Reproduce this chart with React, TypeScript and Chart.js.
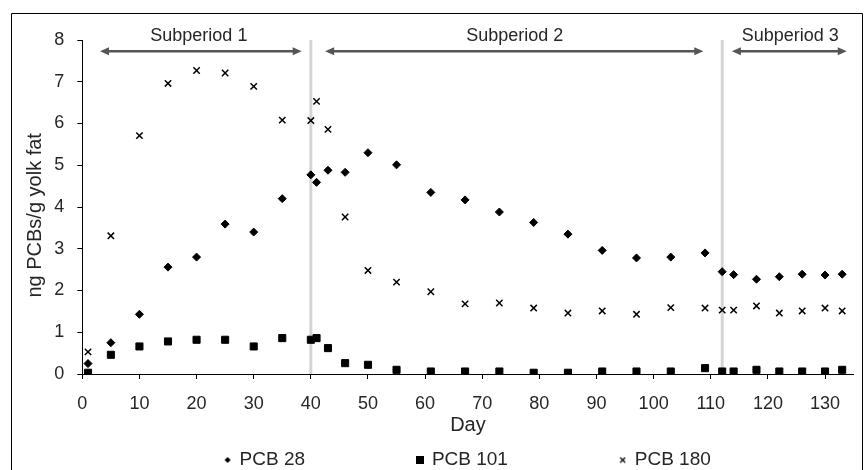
import React, { useEffect, useRef } from 'react';
import { Chart, registerables } from 'chart.js';

Chart.register(...registerables);

// ---- data ----
const days = [1, 5, 10, 15, 20, 25, 30, 35, 40, 41, 43, 46, 50, 55, 61, 67, 73, 79, 85, 91, 97, 103, 109, 112, 114, 118, 122, 126, 130, 133];
const pcb28 = [0.25, 0.75, 1.43, 2.56, 2.8, 3.59, 3.4, 4.2, 4.77, 4.59, 4.88, 4.83, 5.3, 5.01, 4.35, 4.17, 3.88, 3.63, 3.35, 2.96, 2.78, 2.8, 2.9, 2.45, 2.38, 2.27, 2.33, 2.39, 2.37, 2.39];
const pcb101 = [0.03, 0.46, 0.66, 0.78, 0.82, 0.82, 0.66, 0.86, 0.82, 0.86, 0.62, 0.26, 0.22, 0.1, 0.06, 0.06, 0.06, 0.03, 0.03, 0.06, 0.06, 0.06, 0.14, 0.06, 0.06, 0.1, 0.06, 0.06, 0.06, 0.1];
const pcb180 = [0.53, 3.31, 5.71, 6.96, 7.27, 7.21, 6.89, 6.08, 6.07, 6.53, 5.86, 3.76, 2.48, 2.2, 1.97, 1.68, 1.7, 1.58, 1.46, 1.51, 1.43, 1.59, 1.58, 1.53, 1.53, 1.63, 1.46, 1.51, 1.58, 1.51];
const seriesNames = ['PCB 28', 'PCB 101', 'PCB 180'];

const xTickValues = [0, 10, 20, 30, 40, 50, 60, 70, 80, 90, 100, 110, 120, 130];
const yTickValues = [0, 1, 2, 3, 4, 5, 6, 7, 8];

const dividerDays = [40, 112];
const subperiodLabels = ['Subperiod 1', 'Subperiod 2', 'Subperiod 3'];
const subperiodStart = [3.1, 42.5, 113.7];
const subperiodEnd = [38.4, 108.7, 133.8];
const subperiodLabelDay = [20.4, 75.7, 123.9];
const arrowLevel = 7.73;

const xTitle = 'Day';
const yTitle = 'ng PCBs/g yolk fat';

const FONT = '"Liberation Sans", Arial, sans-serif';
const TEXT = '#262626';

function makeIcon(kind: string): HTMLCanvasElement {
  const c = document.createElement('canvas');
  const ctx = c.getContext('2d')!;
  if (kind === 'diamond') {
    c.width = 8; c.height = 8;
    ctx.fillStyle = '#000';
    ctx.beginPath();
    ctx.moveTo(4, 1); ctx.lineTo(7, 4); ctx.lineTo(4, 7); ctx.lineTo(1, 4); ctx.closePath();
    ctx.fill();
  } else if (kind === 'square') {
    c.width = 8; c.height = 8;
    ctx.fillStyle = '#000';
    ctx.fillRect(0, 0, 8, 8);
  } else {
    c.width = 7; c.height = 7;
    ctx.strokeStyle = '#000';
    ctx.lineWidth = 1.2;
    ctx.beginPath();
    ctx.moveTo(1, 1); ctx.lineTo(6, 6);
    ctx.moveTo(6, 1); ctx.lineTo(1, 6);
    ctx.stroke();
  }
  return c;
}

const annotationPlugin = {
  id: 'subperiods',
  beforeDraw(chart: any) {
    const ctx = chart.ctx;
    ctx.save();
    ctx.strokeStyle = '#000';
    ctx.lineWidth = 1;
    ctx.beginPath();
    ctx.moveTo(11.5, chart.height);
    ctx.lineTo(11.5, 13.5);
    ctx.lineTo(862.5, 13.5);
    ctx.lineTo(862.5, chart.height);
    ctx.stroke();
    ctx.restore();
  },
  beforeDatasetsDraw(chart: any) {
    const ctx = chart.ctx;
    const xs = chart.scales.x;
    const ys = chart.scales.y;
    ctx.save();
    // divider lines
    ctx.strokeStyle = '#d4d4d4';
    ctx.lineWidth = 3;
    dividerDays.forEach((d) => {
      const px = xs.getPixelForValue(d);
      ctx.beginPath();
      ctx.moveTo(px, ys.getPixelForValue(8));
      ctx.lineTo(px, ys.getPixelForValue(0));
      ctx.stroke();
    });
    // arrows
    const ay = ys.getPixelForValue(arrowLevel);
    ctx.strokeStyle = '#555';
    ctx.fillStyle = '#555';
    ctx.lineWidth = 2.5;
    const head = 9;
    const half = 4;
    subperiodStart.forEach((s, i) => {
      const x1 = xs.getPixelForValue(s);
      const x2 = xs.getPixelForValue(subperiodEnd[i]);
      ctx.beginPath();
      ctx.moveTo(x1 + head - 1, ay);
      ctx.lineTo(x2 - head + 1, ay);
      ctx.stroke();
      ctx.beginPath();
      ctx.moveTo(x1, ay);
      ctx.lineTo(x1 + head, ay - half);
      ctx.lineTo(x1 + head, ay + half);
      ctx.closePath();
      ctx.fill();
      ctx.beginPath();
      ctx.moveTo(x2, ay);
      ctx.lineTo(x2 - head, ay - half);
      ctx.lineTo(x2 - head, ay + half);
      ctx.closePath();
      ctx.fill();
    });
    // labels
    ctx.fillStyle = TEXT;
    ctx.font = '18px ' + FONT;
    ctx.textAlign = 'center';
    ctx.textBaseline = 'middle';
    subperiodLabels.forEach((t, i) => {
      ctx.fillText(t, xs.getPixelForValue(subperiodLabelDay[i]), chart.chartArea.top - 4);
    });
    ctx.restore();
  },
};

export default function App() {
  const ref = useRef<HTMLCanvasElement | null>(null);

  useEffect(() => {
    document.body.style.margin = '0';
    if (!ref.current) return;
    const icons = [makeIcon('diamond'), makeIcon('square'), makeIcon('cross')];
    const toPts = (vals: number[]) => days.map((d, i) => ({ x: d, y: vals[i] }));
    const chart = new Chart(ref.current, {
      type: 'scatter',
      data: {
        datasets: [
          {
            label: seriesNames[0],
            data: toPts(pcb28),
            pointStyle: 'rectRot',
            pointRadius: 4,
            borderWidth: 1,
            backgroundColor: '#000',
            borderColor: '#000',
          },
          {
            label: seriesNames[1],
            data: toPts(pcb101),
            pointStyle: 'rect',
            pointRadius: 5,
            borderWidth: 1,
            backgroundColor: '#000',
            borderColor: '#000',
          },
          {
            label: seriesNames[2],
            data: toPts(pcb180),
            pointStyle: 'crossRot',
            pointRadius: 4.5,
            borderWidth: 1.5,
            backgroundColor: '#000',
            borderColor: '#000',
          },
        ],
      },
      options: {
        responsive: false,
        animation: false,
        events: [],
        layout: { padding: { left: 11, right: 10.4, top: 40, bottom: 10.5 } },
        scales: {
          x: {
            type: 'linear',
            min: 0,
            max: 135,
            afterBuildTicks: (s: any) => {
              s.ticks = xTickValues.map((v) => ({ value: v }));
            },
            afterFit: (s: any) => {
              s.height = 64.5;
            },
            ticks: {
              padding: 14,
              color: TEXT,
              font: { family: FONT, size: 18 },
              maxRotation: 0,
              autoSkip: false,
            },
            grid: { drawOnChartArea: false, drawTicks: true, tickLength: 5, color: '#000' },
            border: { display: true, color: '#000', width: 1 },
            title: {
              display: true,
              text: xTitle,
              color: TEXT,
              font: { family: FONT, size: 20 },
              padding: { top: 0, bottom: 1.5 },
            },
          },
          y: {
            type: 'linear',
            min: 0,
            max: 8,
            afterBuildTicks: (s: any) => {
              s.ticks = yTickValues.map((v) => ({ value: v }));
            },
            afterFit: (s: any) => {
              s.width = 71.3;
            },
            ticks: {
              padding: 13,
              color: TEXT,
              font: { family: FONT, size: 18 },
            },
            grid: { drawOnChartArea: false, drawTicks: true, tickLength: 5, color: '#000' },
            border: { display: true, color: '#000', width: 1 },
            title: {
              display: true,
              text: yTitle + '   ',
              color: TEXT,
              font: { family: FONT, size: 20 },
              padding: { top: 12, bottom: 0 },
            },
          },
        },
        plugins: {
          tooltip: { enabled: false },
          legend: {
            display: true,
            position: 'bottom',
            fullSize: false,
            labels: {
              usePointStyle: true,
              boxWidth: 5,
              boxHeight: 5,
              padding: 12,
              color: TEXT,
              font: { family: FONT, size: 19 },
              generateLabels: () =>
                seriesNames.map((name, i) => ({
                  text: name + (i < 2 ? ' '.repeat(19) : ''),
                  fillStyle: '#000',
                  strokeStyle: '#000',
                  lineWidth: 0,
                  pointStyle: icons[i],
                  hidden: false,
                  datasetIndex: i,
                  fontColor: TEXT,
                })),
            },
          },
        },
      },
      plugins: [annotationPlugin],
    } as any);
    return () => chart.destroy();
  }, []);

  return (
    <div style={{ width: 864, height: 470, overflow: 'hidden', position: 'relative' }}>
      <canvas ref={ref} width={864} height={490} style={{ display: 'block' }} />
    </div>
  );
}
